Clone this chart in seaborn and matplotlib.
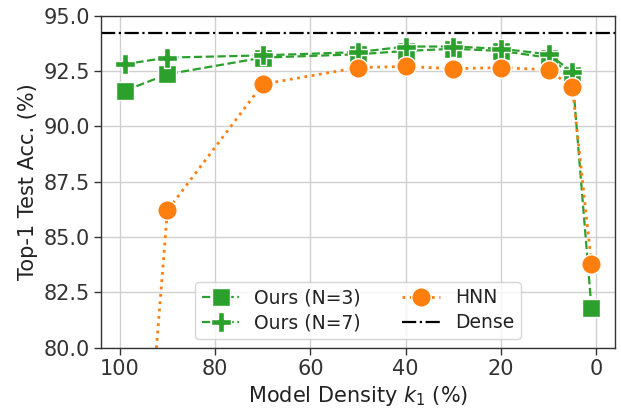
import numpy as np
import pandas as pd
import seaborn as sns
import matplotlib
matplotlib.use("Agg")
import matplotlib.pyplot as plt

# model density k1 (%)
density = [99, 90, 70, 50, 40, 30, 20, 10, 5, 1]
ours_n3 = [91.6, 92.35, 93.1, 93.25, 93.4, 93.5, 93.4, 93.1, 92.3, 81.8]
density_n7 = [99, 90, 70, 50, 40, 30, 20, 10, 5]
ours_n7 = [92.8, 93.1, 93.2, 93.35, 93.6, 93.6, 93.5, 93.25, 92.45]
hnn = [62.0, 86.2, 91.9, 92.65, 92.7, 92.6, 92.65, 92.55, 91.75, 83.8]
dense_acc = 94.2

sns.set_theme(style="whitegrid", rc={
    "axes.edgecolor": "#333333",
    "axes.linewidth": 1.0,
    "grid.color": "#d0d0d0",
    "xtick.bottom": True,
    "ytick.left": True,
    "xtick.color": "#333333",
    "ytick.color": "#333333",
    "axes.labelcolor": "#222222",
    "text.color": "#222222",
})
plt.rcParams["font.family"] = ["DejaVu Sans"]
plt.rcParams["font.size"] = 13

df3 = pd.DataFrame({"density": density, "acc": ours_n3})
df7 = pd.DataFrame({"density": density_n7, "acc": ours_n7})
dfh = pd.DataFrame({"density": density, "acc": hnn})

fig, ax = plt.subplots(figsize=(6.21, 4.09), dpi=100)

green = "#2ca02c"
orange = "#ff7f0e"

sns.lineplot(data=df3, x="density", y="acc", ax=ax, color=green, marker="s",
             markersize=13, markeredgecolor="white", markeredgewidth=1,
             linestyle="--", linewidth=1.6, label="Ours (N=3)")
sns.lineplot(data=df7, x="density", y="acc", ax=ax, color=green, marker="P",
             markersize=15, markeredgecolor="white", markeredgewidth=1,
             linestyle="--", linewidth=1.6, label="Ours (N=7)")
sns.lineplot(data=dfh, x="density", y="acc", ax=ax, color=orange, marker="o",
             markersize=14, markeredgecolor="white", markeredgewidth=1,
             linestyle=":", linewidth=2, label="HNN")
ax.axhline(dense_acc, color="black", linestyle="-.", linewidth=1.6, label="Dense")

ax.set_xlim(103.9, -3.9)
ax.set_ylim(80, 95)
ax.set_xticks([100, 80, 60, 40, 20, 0])
ax.set_yticks([80.0, 82.5, 85.0, 87.5, 90.0, 92.5, 95.0])
ax.set_yticklabels([f"{v:.1f}" for v in [80.0, 82.5, 85.0, 87.5, 90.0, 92.5, 95.0]])
ax.tick_params(labelsize=15, length=5, width=1, pad=3)
ax.set_xlabel("Model Density $k_1$ (%)", fontsize=15)
ax.set_ylabel("Top-1 Test Acc. (%)", fontsize=15)

handles, labels = ax.get_legend_handles_labels()
ax.legend(handles, labels, ncol=2, loc="lower center", fontsize=13.5,
          bbox_to_anchor=(0.5, 0.027), borderaxespad=0, frameon=True,
          handlelength=2.0, columnspacing=2.2, borderpad=0.35, labelspacing=0.3)

fig.subplots_adjust(left=0.163, right=0.99, top=0.962, bottom=0.15)
fig.savefig("out.png", dpi=100)
